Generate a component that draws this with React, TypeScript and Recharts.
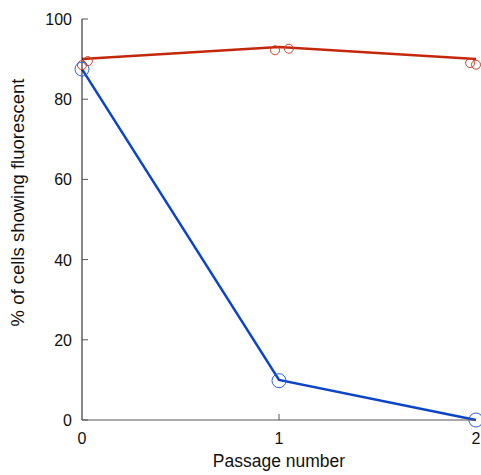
import React from 'react'
import {ComposedChart, Line, Scatter, XAxis, YAxis, Label} from 'recharts'

const passages = [0, 1, 2]
const redMeans = [90, 93, 90]
const blueMeans = [87.5, 10, 0]
const redReps = [[0, 88.5], [0.03, 89.5], [0.98, 92.2], [1.05, 92.6], [1.97, 89], [2, 88.6]]
const blueReps = [[0, 87.5], [1, 9.8], [2, 0]]
const yTicks = [0, 20, 40, 60, 80, 100]

const lineData = passages.map((p, i) => ({x: p, red: redMeans[i], blue: blueMeans[i]}))
const redPts = redReps.map(([x, y]) => ({x, y}))
const bluePts = blueReps.map(([x, y]) => ({x, y}))

const FONT = 'Liberation Sans, Arial, sans-serif'

const YTick = (props) => {
  const {x, y, payload} = props
  return (
    <g>
      <line x1={x + 10} x2={x + 16} y1={y} y2={y} stroke="#555" />
      <text x={x} y={y} dy={6} textAnchor="end" fontSize={16} fontFamily={FONT} fill="#111">{payload.value}</text>
    </g>
  )
}

const XTick = (props) => {
  const {x, y, payload} = props
  return (
    <g>
      {payload.value === 1 && <line x1={x} x2={x} y1={y - 10} y2={y - 16} stroke="#555" />}
      <text x={x} y={y} dy={14} textAnchor="middle" fontSize={16} fontFamily={FONT} fill="#111">{payload.value}</text>
    </g>
  )
}

const YLabel = (props) => {
  const {viewBox} = props
  const cx = 17
  const cy = viewBox.y + viewBox.height / 2 - 17
  return (
    <text x={cx} y={cy} transform={`rotate(-90 ${cx} ${cy})`} textAnchor="middle" dominantBaseline="central"
      fontSize={18.5} fontFamily={FONT} fill="#111">% of cells showing fluorescent</text>
  )
}

const ring = (r, color) => (props) => (
  <circle cx={props.cx} cy={props.cy} r={r} fill="none" stroke={color} strokeWidth={1} />
)

export default function App() {
  return (
    <div style={{position: 'absolute', left: 0, top: 0, width: 481, height: 475, overflow: 'hidden'}}>
      <ComposedChart width={481} height={475} margin={{top: 19, right: 5, bottom: 25, left: 28}} data={lineData}
        style={{overflow: 'visible'}}>
        <XAxis dataKey="x" type="number" domain={[0, 2]} ticks={passages} tickSize={0} tickMargin={10}
          stroke="#555" tick={<XTick />}>
          <Label value="Passage number" position="bottom" offset={5} fontSize={17.5} fontFamily={FONT} fill="#111" />
        </XAxis>
        <YAxis type="number" domain={[0, 100]} ticks={yTicks} width={54} tickSize={0} tickMargin={10}
          stroke="#111" tick={<YTick />}>
          <Label content={<YLabel />} />
        </YAxis>
        <Line dataKey="red" stroke="#c4280a" strokeWidth={2.5} dot={false} isAnimationActive={false} />
        <Line dataKey="blue" stroke="#0b44c8" strokeWidth={2.5} dot={false} isAnimationActive={false} />
        <Scatter data={redPts} dataKey="y" shape={ring(4.5, '#d0402a')} isAnimationActive={false} />
        <Scatter data={bluePts} dataKey="y" shape={ring(7, '#2a5ee0')} isAnimationActive={false} />
      </ComposedChart>
    </div>
  )
}
